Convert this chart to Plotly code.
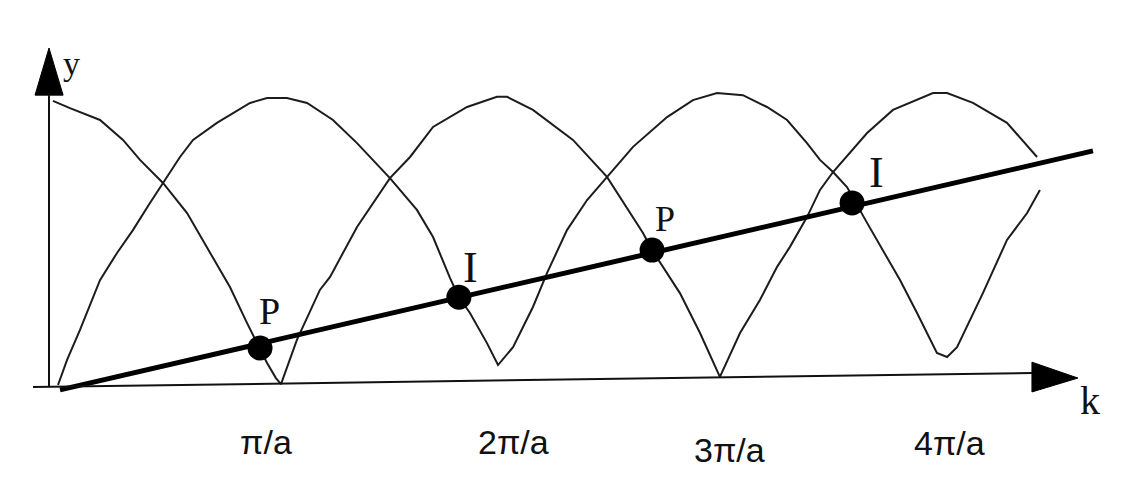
import plotly.graph_objects as go

# ---- data (k in units of pi/a, y in arbitrary units) ----
curve_a_k = [-0.032, 0.045, 0.181, 0.285, 0.362, 0.466, 0.575, 0.679, 0.769, 0.846, 0.905,
             0.937, 0.977, 1.000, 1.072, 1.176, 1.222, 1.344, 1.493, 1.584, 1.688, 1.842,
             1.977, 2.023, 2.140, 2.321, 2.475, 2.638, 2.679, 2.747, 2.805, 2.896, 2.986,
             3.077, 3.167, 3.244, 3.303, 3.380, 3.439, 3.498, 3.575, 3.652, 3.769, 3.950,
             4.014, 4.131, 4.285, 4.421]
curve_a_y = [0.983, 0.958, 0.917, 0.848, 0.779, 0.699, 0.595, 0.457, 0.339, 0.215, 0.128,
             0.076, 0.024, 0.003, 0.156, 0.329, 0.374, 0.547, 0.716, 0.789, 0.893, 0.962,
             0.997, 0.997, 0.952, 0.848, 0.720, 0.526, 0.467, 0.388, 0.318, 0.180, 0.028,
             0.180, 0.294, 0.408, 0.478, 0.581, 0.675, 0.737, 0.803, 0.872, 0.952, 1.010,
             1.010, 0.976, 0.907, 0.789]

curve_b_k = [-0.009, 0.032, 0.090, 0.181, 0.258, 0.330, 0.407, 0.466, 0.543, 0.602, 0.710,
             0.860, 0.937, 1.027, 1.118, 1.235, 1.344, 1.493, 1.615, 1.688, 1.765, 1.805,
             1.855, 1.932, 1.982, 2.050, 2.140, 2.204, 2.294, 2.385, 2.475, 2.593, 2.747,
             2.864, 2.973, 3.090, 3.199, 3.290, 3.380, 3.439, 3.498, 3.561, 3.652, 3.801,
             3.878, 3.968, 4.014, 4.059, 4.176, 4.285, 4.376, 4.434]
curve_b_y = [0.000, 0.087, 0.190, 0.363, 0.457, 0.536, 0.630, 0.699, 0.789, 0.848, 0.907,
             0.976, 0.993, 0.993, 0.976, 0.917, 0.837, 0.716, 0.606, 0.512, 0.370, 0.304,
             0.249, 0.145, 0.069, 0.131, 0.270, 0.388, 0.536, 0.640, 0.720, 0.824, 0.927,
             0.986, 1.010, 1.003, 0.962, 0.917, 0.837, 0.779, 0.737, 0.685, 0.561, 0.363,
             0.249, 0.111, 0.097, 0.131, 0.318, 0.502, 0.595, 0.675]

line_k = [0.0, 4.674]
line_y = [-0.017, 0.810]

point_k = [0.905, 1.805, 2.679, 3.584]
point_y = [0.128, 0.304, 0.467, 0.630]
point_labels = ["P", "I", "P", "I"]

tick_vals = [1, 2, 3, 4]
tick_labels = ["π/a", "2π/a", "3π/a", "4π/a"]

axis_title_x = "k"
axis_title_y = "y"

# ---- styling ----
curve_color = "#1c1c1c"
label_shift = [(9, 37), (12, 30), (13, 31), (24, 30)]
tick_shift = [(-15, -57), (11, -57), (6, -65), (5, -58)]
label_sizes = [38, 44, 36, 44]

fig = go.Figure()
fig.add_trace(go.Scatter(x=curve_a_k, y=curve_a_y, mode="lines",
                         line=dict(color=curve_color, width=2), hoverinfo="skip"))
fig.add_trace(go.Scatter(x=curve_b_k, y=curve_b_y, mode="lines",
                         line=dict(color=curve_color, width=2), hoverinfo="skip"))
fig.add_trace(go.Scatter(x=line_k, y=line_y, mode="lines",
                         line=dict(color="#000000", width=5), hoverinfo="skip"))
fig.add_trace(go.Scatter(x=point_k, y=point_y, mode="markers",
                         marker=dict(color="#000000", size=25), hoverinfo="skip"))

# axes drawn as arrows
shapes = [
    dict(type="line", x0=-0.122, y0=-0.007, x1=4.398, y1=0.0415,
         line=dict(color="#111111", width=2)),
    dict(type="path", path="M 4.398 0.079 L 4.398 -0.024 L 4.606 0.024 Z",
         fillcolor="#000000", line=dict(color="#000000", width=1)),
    dict(type="line", x0=-0.0498, y0=-0.007, x1=-0.0498, y1=1.003,
         line=dict(color="#111111", width=2)),
    dict(type="path", path="M -0.113 1.003 L 0.014 1.003 L -0.0498 1.166 Z",
         fillcolor="#000000", line=dict(color="#000000", width=1)),
]

annotations = []
for k, yv, lab, (dx, dy), fs in zip(point_k, point_y, point_labels, label_shift, label_sizes):
    annotations.append(dict(x=k, y=yv, text=lab, showarrow=False, xshift=dx, yshift=dy,
                            font=dict(family="Liberation Serif, serif", size=fs, color="#111111")))
for tv, tl, (dx, dy) in zip(tick_vals, tick_labels, tick_shift):
    annotations.append(dict(x=tv, y=0, text=tl, showarrow=False, xshift=dx, yshift=dy,
                            font=dict(family="Liberation Sans, Arial, sans-serif", size=34,
                                      color="#111111")))
annotations.append(dict(x=0.054, y=1.111, text=axis_title_y, showarrow=False,
                        font=dict(family="Liberation Serif, serif", size=34, color="#111111")))
annotations.append(dict(x=4.661, y=-0.052, text=axis_title_x, showarrow=False,
                        font=dict(family="Liberation Serif, serif", size=40, color="#111111")))

fig.update_layout(
    width=1121, height=485,
    margin=dict(l=0, r=0, t=0, b=0),
    paper_bgcolor="white", plot_bgcolor="white",
    showlegend=False,
    shapes=shapes, annotations=annotations,
    xaxis=dict(range=[-0.2715, 4.8009], visible=False, fixedrange=True),
    yaxis=dict(range=[-0.346, 1.3322], visible=False, fixedrange=True),
)

fig.write_html("out.html", config={"displayModeBar": False},
               post_script="document.body.style.margin='0';document.body.style.overflow='hidden';")
